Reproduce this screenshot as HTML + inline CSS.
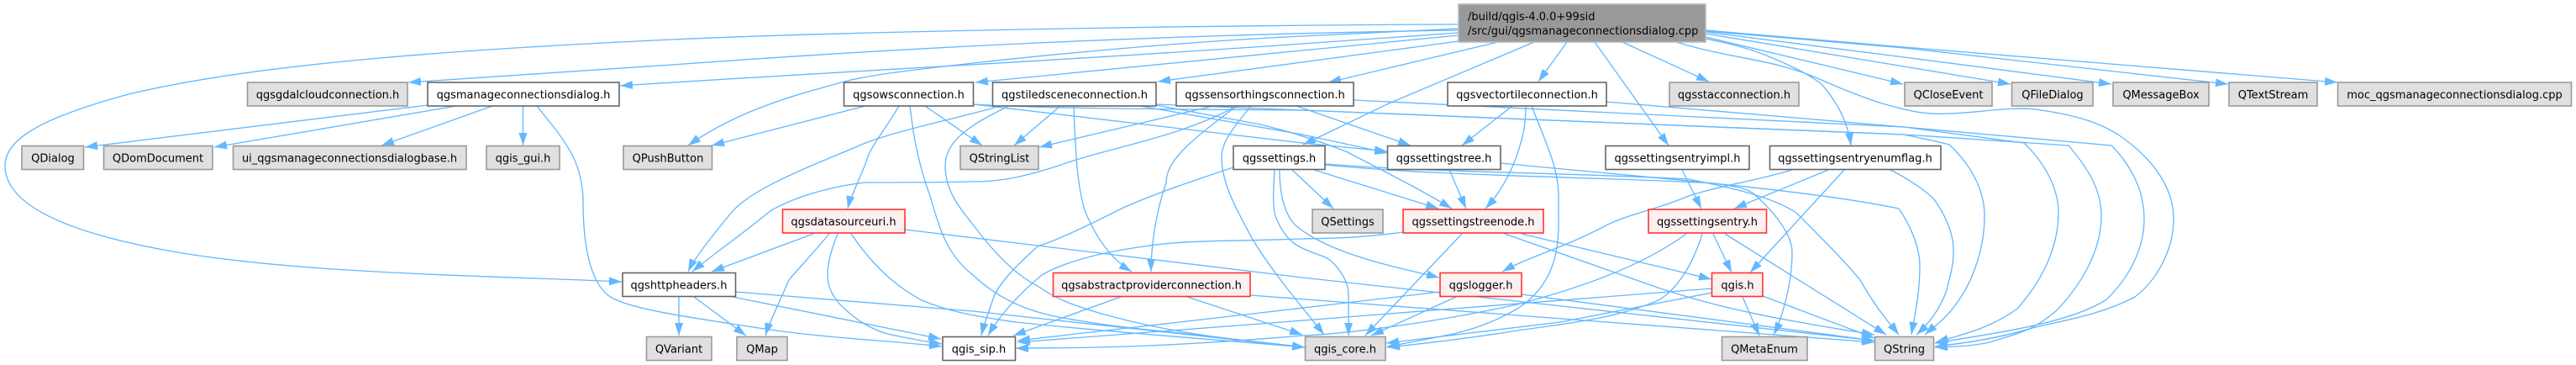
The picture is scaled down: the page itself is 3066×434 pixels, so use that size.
<!DOCTYPE html>
<html><head><meta charset="utf-8"><style>
html,body{margin:0;padding:0;background:#fff;width:3066px;height:434px;overflow:hidden}
svg{display:block}
.e path{fill:none;stroke:#63b8ff;stroke-width:1.33;marker-end:url(#a)}
rect{stroke-width:1.6}
.w{fill:#fff;stroke:#666}
.g{fill:#e0e0e0;stroke:#999}
.r{fill:#fff0f0;stroke:#ff3333}
.m{fill:#999;stroke:#b8b8b8}
text{font-family:"DejaVu Sans",sans-serif;font-size:13px;fill:#000;text-anchor:middle}
</style></head><body>
<svg width="3066" height="434" viewBox="0 0 3066 434" xmlns="http://www.w3.org/2000/svg">
<defs><marker id="a" markerUnits="userSpaceOnUse" markerWidth="15" markerHeight="11" viewBox="0 0 15 11" refX="15" refY="5.5" orient="auto"><path d="M0,0.5L15,5.5L0,10.5Z" fill="#63b8ff"/></marker></defs>
<g class="e">
<!-- main -->
<path d="M1736,29C1400,30 1000,38 800,47C560,58 306,75 153,112C50,140 6,165 6,197C6,250 100,280 200,298C350,325 560,327 740,335"/>
<path d="M1736,36C1400,41 1100,55 800,77L486,98"/>
<path d="M1736,39L1550,52C1300,70 1000,85 738,102"/>
<path d="M1736,34L1550,43C1400,50 1250,65 1158,75C1090,83 1040,88 1005,97C950,112 880,130 819,173"/>
<path d="M1736,42L1550,60L1161,98"/>
<path d="M1736,49L1378,97"/>
<path d="M1783,50L1581,98"/>
<path d="M1826,50L1653,123L1551,172"/>
<path d="M1865,50L1831,97"/>
<path d="M1898,50L1986,173"/>
<path d="M1931,50L2034,97"/>
<path d="M2030,46C2060,52 2085,58 2112,70C2140,82 2155,90 2168,100C2190,125 2200,150 2203,173"/>
<path d="M1995,50C2060,70 2110,70 2163,93C2190,105 2215,115 2240,123C2265,130 2290,137 2317,135C2350,135 2400,125 2429,131C2480,138 2505,150 2521,160C2565,190 2587,225 2587,260C2587,300 2565,335 2541,353C2500,375 2450,382 2419,390C2380,402 2340,408 2303,412"/>
<path d="M2030,44L2265,100"/>
<path d="M2030,40L2266,79L2393,100"/>
<path d="M2030,38L2266,68L2513,100"/>
<path d="M2030,37L2266,57L2652,100"/>
<path d="M2030,36L2266,56L2782,98"/>
<!-- manage -->
<path d="M509,125L117,173L101,175"/>
<path d="M543,126L255,175"/>
<path d="M586,126L454,173"/>
<path d="M622.5,126L622.5,173"/>
<path d="M639,126C670,165 694,190 694,240C694,283 700,340 730,355C760,370 840,380 903,390C980,402 1060,405 1121,412"/>
<!-- ows -->
<path d="M1030,126L847,173"/>
<path d="M1101,126L1169,173"/>
<path d="M1070,126C1050,160 1036,173 1030,195C1020,220 1012,235 1009,248"/>
<path d="M1083,126C1088,170 1095,200 1107,233C1120,280 1130,305 1158,327C1195,362 1235,372 1260,377C1330,390 1370,392 1413,397C1470,403 1510,408 1553,413"/>
<path d="M1159,124L1550,170L1651,180"/>
<path d="M1159,124C1250,130 1450,130 1550,131L2266,160C2350,165 2420,170 2462,173C2485,200 2501,225 2501,257C2501,300 2475,340 2450,367C2420,395 2395,398 2368,407C2345,412 2325,412 2303,413" style="marker-end:url(#a)"/>
<!-- tiled -->
<path d="M1184,128C1120,145 1070,155 1030,170C960,200 890,225 867,257C840,290 825,310 819,323"/>
<path d="M1199,127C1150,150 1125,170 1125,197C1125,225 1140,245 1158,267C1190,310 1215,330 1235,340C1260,358 1285,365 1311,373C1400,398 1480,405 1553,413"/>
<path d="M1262,126L1207,173"/>
<path d="M1278,126C1280,180 1282,220 1291,250C1305,285 1325,310 1347,323"/>
<path d="M1357,126L1550,160L1652,182"/>
<path d="M1376,125L1500,148C1550,160 1580,172 1602,180C1650,205 1690,225 1728,248"/>
<path d="M1376,124L1550,131L2266,160C2290,165 2305,168 2320,172C2345,195 2362,225 2362,257C2362,300 2345,340 2327,363C2315,380 2300,390 2291,398"/>
<!-- sensor -->
<path d="M1444,126L1237,175"/>
<path d="M1472,126C1400,165 1320,175 1260,197C1210,213 1185,216 1158,216C1110,217 1070,217 1030,217C985,222 945,235 918,250C875,285 845,305 824,323"/>
<path d="M1472,126C1420,165 1388,190 1388,217C1375,255 1370,295 1370,323"/>
<path d="M1489,126C1465,155 1454,170 1454,187C1454,220 1475,255 1490,283C1515,325 1550,365 1576,398"/>
<path d="M1543,126L1679,173"/>
<path d="M1611,119L2266,151L2513,173C2535,195 2552,225 2552,260C2552,300 2530,335 2506,357C2460,385 2380,395 2303,408"/>
<!-- vectortile -->
<path d="M1800,126L1740,173"/>
<path d="M1816,126C1816,155 1810,170 1806,183C1795,215 1780,235 1768,248"/>
<path d="M1823,126C1840,170 1855,200 1855,233C1855,265 1856,280 1852,300C1845,335 1825,355 1806,367C1775,385 1750,392 1730,397C1700,403 1675,408 1651,412"/>
<path d="M1912,121L2266,151L2409,170C2435,195 2450,225 2450,253C2450,300 2425,340 2401,367C2370,390 2335,398 2304,407"/>
<!-- settings -->
<path d="M1538,202L1587,248"/>
<path d="M1564,202L1712,248"/>
<path d="M1523,202C1523,235 1530,255 1541,267C1555,280 1580,292 1602,300C1640,314 1680,322 1713,330"/>
<path d="M1517,202C1515,235 1515,245 1518,257C1525,275 1535,287 1546,293C1565,303 1575,303 1584,310C1600,325 1605,340 1605,350L1605,399"/>
<path d="M1468,199C1420,215 1375,230 1337,247C1295,268 1260,285 1235,293C1205,320 1192,335 1184,350C1175,375 1170,390 1168,399"/>
<path d="M1577,195C1700,205 1860,205 2010,213C2070,225 2110,235 2138,253C2170,285 2195,310 2214,333C2235,370 2250,385 2260,398"/>
<path d="M1577,196C1720,210 1900,210 2040,218C2070,222 2080,225 2087,230C2115,255 2133,280 2133,300C2133,340 2120,380 2111,398"/>
<!-- tree -->
<path d="M1786,194C1950,210 2150,225 2260,248C2275,270 2285,295 2285,317C2285,350 2278,380 2275,398"/>
<path d="M1725,202L1745,248"/>
<!-- entryimpl -->
<path d="M2002,202L2025,248"/>
<!-- flag -->
<path d="M2176,202L2064,248"/>
<path d="M2195,202L2083,324"/>
<path d="M2133,202C2090,215 2050,220 2010,233C1970,250 1935,255 1908,270C1860,295 1820,305 1788,323"/>
<path d="M2250,202C2270,212 2290,225 2302,237C2318,260 2325,280 2325,297C2325,320 2320,330 2317,345C2308,370 2295,385 2281,398"/>
<!-- entry -->
<path d="M2039,278L2061,324"/>
<path d="M2053,278L2245,398"/>
<path d="M2026,278C2015,315 1995,345 1974,357C1920,380 1860,385 1806,393C1750,402 1700,408 1651,413"/>
<path d="M2007,278C1950,320 1870,345 1806,362C1700,385 1600,397 1550,399C1400,412 1300,414 1209,414"/>
<!-- qgis.h -->
<path d="M2038,348L1857,383L1650,408"/>
<path d="M2038,343L1500,385L1211,407"/>
<path d="M2074,353L2094,399"/>
<path d="M2098,352L2231,402"/>
<!-- logger -->
<path d="M1733,353L1632,399"/>
<path d="M1714,347L1500,372L1211,405"/>
<path d="M1811,350L2231,405"/>
<!-- treenode -->
<path d="M1740,278L1625,399"/>
<path d="M1811,278L2037,332"/>
<path d="M1791,278L1959,337C2050,370 2150,385 2231,398"/>
<path d="M1670,276C1620,283 1590,283 1550,284C1470,287 1410,285 1362,293C1310,300 1265,312 1240,327C1210,352 1190,375 1176,399"/>
<!-- datasource -->
<path d="M968,278L847,323"/>
<path d="M987,278C960,310 945,325 939,333C925,365 915,385 911,399"/>
<path d="M997,278C988,300 985,315 985,327C985,345 995,358 1005,367C1025,385 1040,392 1056,397C1080,402 1100,406 1121,409"/>
<path d="M1013,278C1045,325 1075,345 1097,357C1135,373 1175,378 1209,383C1320,395 1440,403 1553,413"/>
<path d="M1077,273L1550,330L2231,405"/>
<!-- abstract -->
<path d="M1334,353L1206,399"/>
<path d="M1413,353L1550,398"/>
<path d="M1488,351L2231,407"/>
<!-- http -->
<path d="M808,353L808,399"/>
<path d="M826,353L888,399"/>
<path d="M872,353L1120,403"/>
<path d="M875,347L1158,370L1553,413"/>
</g>
<g>
<rect class="m" x="1736" y="5" width="294" height="45"/>
<text x="1747" y="24" style="text-anchor:start">/build/qgis-4.0.0+99sid</text>
<text x="1747" y="41" style="text-anchor:start">/src/gui/qgsmanageconnectionsdialog.cpp</text>

<rect class="g" x="294.5" y="98" width="190.5" height="28"/><text x="390" y="117">qgsgdalcloudconnection.h</text>
<rect class="w" x="509" y="98" width="228" height="28"/><text x="623" y="117">qgsmanageconnectionsdialog.h</text>
<rect class="w" x="1004.5" y="98" width="154" height="28"/><text x="1081.5" y="117">qgsowsconnection.h</text>
<rect class="w" x="1181.5" y="98" width="194.5" height="28"/><text x="1279" y="117">qgstiledsceneconnection.h</text>
<rect class="w" x="1400" y="98" width="211" height="28"/><text x="1505.5" y="117">qgssensorthingsconnection.h</text>
<rect class="w" x="1723" y="98" width="189" height="28"/><text x="1817.5" y="117">qgsvectortileconnection.h</text>
<rect class="g" x="1987" y="98" width="154" height="28"/><text x="2064" y="117">qgsstacconnection.h</text>
<rect class="g" x="2267" y="98" width="104" height="28"/><text x="2319" y="117">QCloseEvent</text>
<rect class="g" x="2394.5" y="98" width="96.5" height="28"/><text x="2443" y="117">QFileDialog</text>
<rect class="g" x="2515" y="98" width="114" height="28"/><text x="2572" y="117">QMessageBox</text>
<rect class="g" x="2653" y="98" width="105" height="28"/><text x="2705.5" y="117">QTextStream</text>
<rect class="g" x="2782.5" y="98" width="278" height="28"/><text x="2921.5" y="117">moc_qgsmanageconnectionsdialog.cpp</text>

<rect class="g" x="26" y="173.5" width="73.5" height="28"/><text x="63" y="192.5">QDialog</text>
<rect class="g" x="123.5" y="173.5" width="129.5" height="28"/><text x="188" y="192.5">QDomDocument</text>
<rect class="g" x="277.5" y="173.5" width="277.5" height="28"/><text x="416" y="192.5">ui_qgsmanageconnectionsdialogbase.h</text>
<rect class="g" x="579" y="173.5" width="87" height="28"/><text x="622.5" y="192.5">qgis_gui.h</text>
<rect class="g" x="742" y="173.5" width="105.5" height="28"/><text x="795" y="192.5">QPushButton</text>
<rect class="g" x="1143" y="173.5" width="93" height="28"/><text x="1189.5" y="192.5">QStringList</text>
<rect class="w" x="1468" y="173.5" width="109" height="28"/><text x="1522.5" y="192.5">qgssettings.h</text>
<rect class="w" x="1651.5" y="173.5" width="134.5" height="28"/><text x="1718.5" y="192.5">qgssettingstree.h</text>
<rect class="w" x="1911" y="173.5" width="171" height="28"/><text x="1996.5" y="192.5">qgssettingsentryimpl.h</text>
<rect class="w" x="2106.5" y="173.5" width="203.5" height="28"/><text x="2208" y="192.5">qgssettingsentryenumflag.h</text>

<rect class="r" x="931.5" y="249" width="145.5" height="28"/><text x="1004" y="268">qgsdatasourceuri.h</text>
<rect class="g" x="1562" y="249" width="84" height="28"/><text x="1604" y="268">QSettings</text>
<rect class="r" x="1670" y="249" width="167" height="28"/><text x="1753.5" y="268">qgssettingstreenode.h</text>
<rect class="r" x="1962" y="249" width="140.5" height="28"/><text x="2032" y="268">qgssettingsentry.h</text>

<rect class="w" x="741" y="324.5" width="134.5" height="28"/><text x="808" y="343.5">qgshttpheaders.h</text>
<rect class="r" x="1253.5" y="324.5" width="234.5" height="28"/><text x="1370.5" y="343.5">qgsabstractproviderconnection.h</text>
<rect class="r" x="1714" y="324.5" width="97" height="28"/><text x="1762.5" y="343.5">qgslogger.h</text>
<rect class="r" x="2037.5" y="324.5" width="60.5" height="28"/><text x="2068" y="343.5">qgis.h</text>

<rect class="g" x="769.5" y="400.5" width="77.5" height="28"/><text x="808" y="419.5">QVariant</text>
<rect class="g" x="877" y="400.5" width="60" height="28"/><text x="907" y="419.5">QMap</text>
<rect class="w" x="1122" y="400.5" width="86.5" height="28"/><text x="1165" y="419.5">qgis_sip.h</text>
<rect class="g" x="1553.5" y="400.5" width="95.5" height="28"/><text x="1601" y="419.5">qgis_core.h</text>
<rect class="g" x="2049.5" y="400.5" width="101.5" height="28"/><text x="2100" y="419.5">QMetaEnum</text>
<rect class="g" x="2231.5" y="400.5" width="70" height="28"/><text x="2266.5" y="419.5">QString</text>
</g>
</svg>
</body></html>
